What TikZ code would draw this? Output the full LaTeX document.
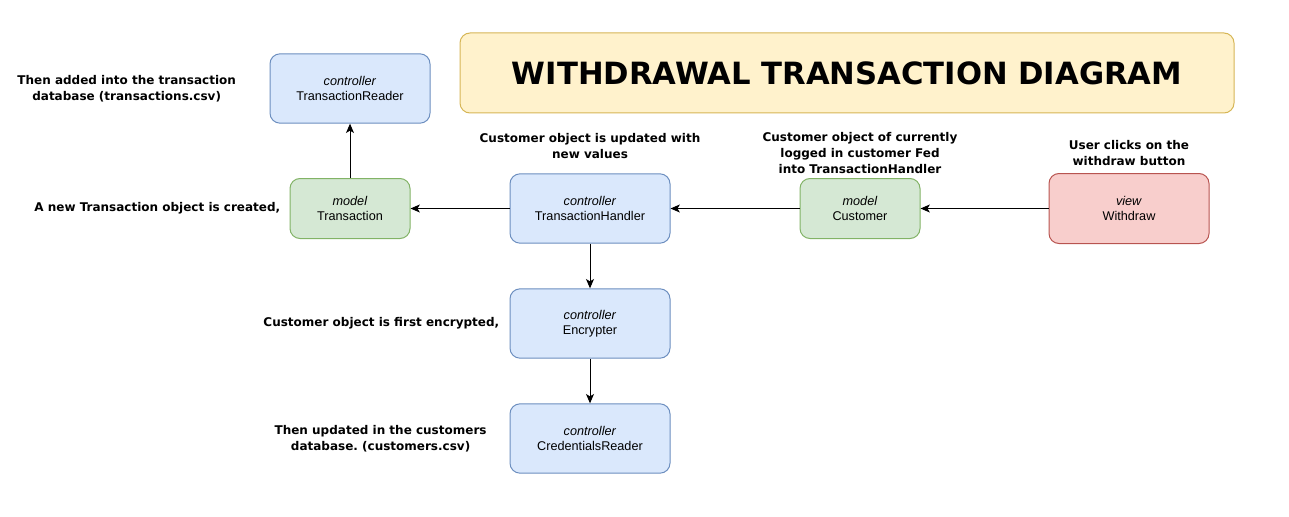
\documentclass[tikz,border=0pt]{standalone}
\usepackage{fontspec}
\setmainfont{Liberation Sans}
\newfontfamily\notefont{DejaVu Sans}
\usetikzlibrary{positioning,arrows.meta}
\definecolor{ctrlfill}{HTML}{DAE8FC}
\definecolor{ctrldraw}{HTML}{6C8EBF}
\definecolor{modelfill}{HTML}{D5E8D4}
\definecolor{modeldraw}{HTML}{82B366}
\definecolor{viewfill}{HTML}{F8CECC}
\definecolor{viewdraw}{HTML}{B85450}
\definecolor{titlefill}{HTML}{FFF2CC}
\definecolor{titledraw}{HTML}{D6B656}
\newcommand\boxtext{\fontsize{9.5}{11.25}\selectfont}
\newcommand\notetext{\notefont\bfseries\fontsize{9}{12}\selectfont}
\tikzset{>={Stealth[length=7pt,width=6pt,inset=1.8pt]}}
\frenchspacing

\begin{document}
\begin{tikzpicture}[x=0.75pt, y=-0.75pt,
    box/.style={draw, rounded corners=7.5pt, line width=0.75pt, align=center,
      font=\boxtext, inner sep=0pt, on grid},
    ctrlbox/.style={box, fill=ctrlfill, draw=ctrldraw, minimum width=120pt, minimum height=52pt},
    modelbox/.style={box, fill=modelfill, draw=modeldraw, minimum width=90pt, minimum height=45pt},
    viewbox/.style={box, fill=viewfill, draw=viewdraw, minimum width=120pt, minimum height=52.5pt},
    titlebox/.style={draw=titledraw, fill=titlefill, rounded corners=7.5pt, line width=0.75pt,
      minimum width=580.5pt, minimum height=60pt, font=\notefont\bfseries\fontsize{23}{27}\selectfont},
    note/.style={font=\notetext, align=center, inner sep=0pt},
    link/.style={->, line width=0.75pt}]

  \useasboundingbox (0,0) rectangle (1289,517);

  % START: Title -----------------------------------
  \node[titlebox] (title) at (847,73) {WITHDRAWAL TRANSACTION DIAGRAM};
  % END: Title -------------------------------------

  % START: Middle row ------------------------------
  \node[ctrlbox] (handler) at (590,208.5) {\textit{controller}\\TransactionHandler};
  \node[modelbox, left=180pt of handler] (transaction) {\textit{model}\\Transaction};
  \node[modelbox, right=202.5pt of handler] (customer) {\textit{model}\\Customer};
  \node[viewbox, right=201.75pt of customer] (withdraw) {\textit{view}\\Withdraw};
  % Above
  \node[ctrlbox, above=90pt of transaction] (reader) {\textit{controller}\\TransactionReader};
  % Below
  \node[ctrlbox, below=86.25pt of handler] (encrypter) {\textit{controller}\\Encrypter};
  \node[ctrlbox, below=86.25pt of encrypter] (credentials) {\textit{controller}\\CredentialsReader};
  % END: Middle row --------------------------------

  % START: Notes -----------------------------------
  \node[note, left=25pt of reader] (reader_note) {Then added into the transaction\\database (transactions.csv)};
  \node[note, left=6.75pt of transaction] (transaction_note) {A new Transaction object is created,};
  \node[note, above=11pt of handler] (handler_note) {Customer object is updated with\\new values};
  \node[note, above=3pt of customer] (customer_note) {Customer object of currently\\logged in customer Fed\\into TransactionHandler};
  \node[note, above=5pt of withdraw] (withdraw_note) {User clicks on the\\withdraw button};
  \node[note, left=7.5pt of encrypter] (encrypter_note) {Customer object is first encrypted,};
  \node[note, left=17pt of credentials] (credentials_note) {Then updated in the customers\\database. (customers.csv)};
  % END: Notes -------------------------------------

  \draw[link] (withdraw) -- (customer);
  \draw[link] (customer) -- (handler);
  \draw[link] (handler) -- (transaction);
  \draw[link] (transaction) -- (reader);
  \draw[link] (handler) -- (encrypter);
  \draw[link] (encrypter) -- (credentials);
\end{tikzpicture}
\end{document}
